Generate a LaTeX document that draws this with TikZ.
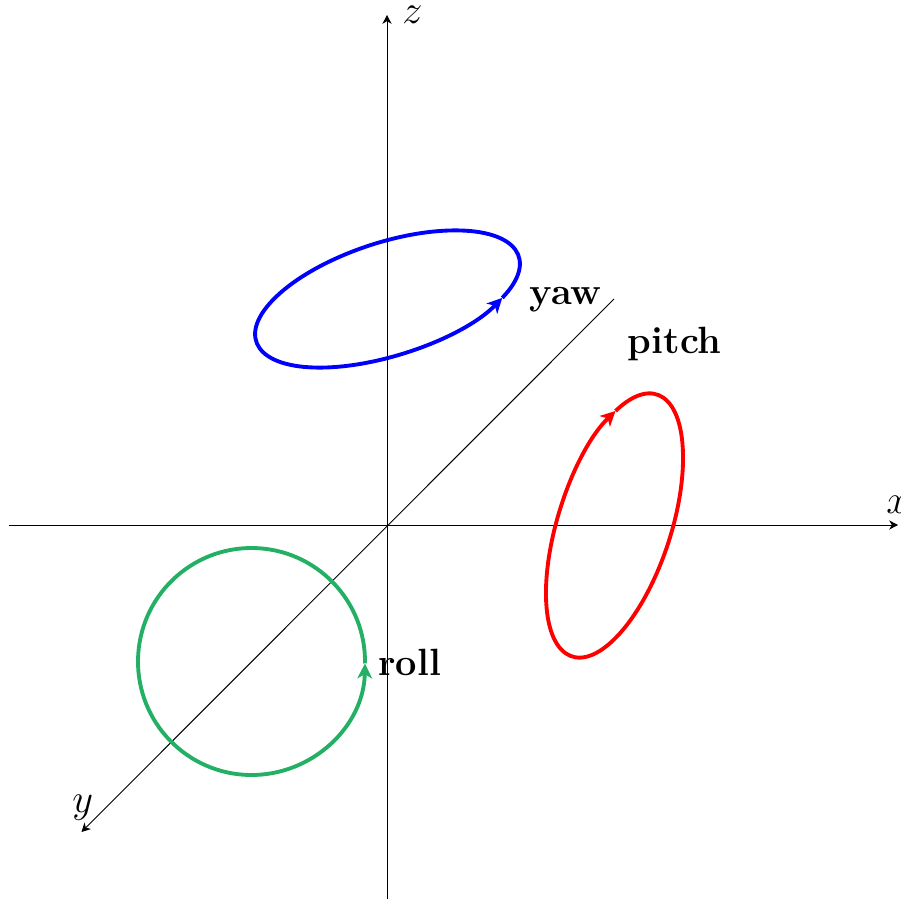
\RequirePackage{fix-cm}
\documentclass[tikz,border=0pt]{standalone}
\usetikzlibrary{arrows.meta}
\definecolor{rollgreen}{RGB}{35,175,100}
\tikzset{
  axis/.style={line width=0.55pt,-{Stealth[length=5pt,width=5.2pt,inset=1.5pt]}},
  turn/.style={line width=2.2pt,-{Stealth[length=8.5pt,width=8.4pt,inset=2.4pt]}},
  lab/.style={inner sep=0pt,anchor=base west,font=\fontsize{23}{27}\selectfont},
  blab/.style={inner sep=0pt,anchor=base west,font=\fontsize{21.6}{26}\selectfont\bfseries}
}
\begin{document}
\begin{tikzpicture}[x=0.02cm,y=0.02cm]
\useasboundingbox (-387,525) rectangle (514,-374);
\coordinate (xa) at (-378,0);
\coordinate (xb) at (511,0);
\coordinate (za) at (0,-374);
\coordinate (zb) at (0,510);
\coordinate (ya) at (227,226);
\coordinate (yb) at (-305.5,-307);
\draw[axis] (xa) -- (xb);
\draw[axis] (za) -- (zb);
\draw[axis] (ya) -- (yb);
\node[lab] (lx) at (499,12) {$x$};
\node[lab] (lz) at (15,501) {$z$};
\node[lab] (ly) at (-315,-287) {$y$};
\node[blab] (lyaw) at (142.5,220) {yaw};
\node[blab] (lpitch) at (240.5,172) {pitch};
\node[blab] (lroll) at (-9,-150) {roll};
\coordinate (cyaw) at (0.5,226);
\coordinate (cpitch) at (227.5,-0.5);
\coordinate (croll) at (-135.5,-136.5);
\begin{scope}[shift={(cyaw)},rotate=18]
\draw[turn,blue] (-37.5:138 and 56.5) arc[start angle=-37.5,end angle=322.5,x radius=138,y radius=56.5];
\end{scope}
\begin{scope}[shift={(cpitch)},rotate=72]
\draw[turn,red] (37.5:137.7 and 56.5) arc[start angle=37.5,end angle=-322.5,x radius=137.7,y radius=56.5];
\end{scope}
\begin{scope}[shift={(croll)}]
\draw[turn,rollgreen] (-1:113.5) arc[start angle=-1,end angle=359,radius=113.5];
\end{scope}
\end{tikzpicture}
\end{document}
